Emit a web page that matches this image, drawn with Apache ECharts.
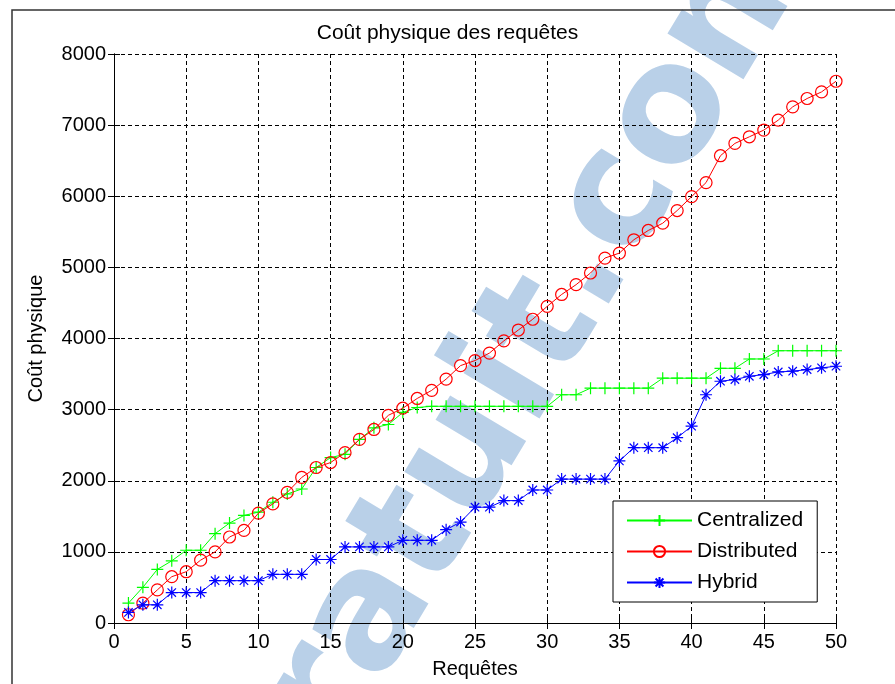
<!DOCTYPE html>
<html>
<head>
<meta charset="utf-8">
<script src="https://cdn.jsdelivr.net/npm/echarts@6/dist/echarts.min.js"></script>
<style>html,body{margin:0;padding:0;background:#fff}#c{width:895px;height:684px}</style>
</head>
<body>
<div id="c"></div>
<script>
const requetes = [1,2,3,4,5,6,7,8,9,10,11,12,13,14,15,16,17,18,19,20,21,22,23,24,25,26,27,28,29,30,31,32,33,34,35,36,37,38,39,40,41,42,43,44,45,46,47,48,49,50];
const centralized = [280,502,753,874,1023,1023,1256,1405,1512,1558,1698,1814,1884,2186,2326,2372,2581,2744,2791,2960,3030,3047,3047,3047,3047,3047,3047,3047,3047,3047,3209,3209,3302,3302,3302,3302,3302,3442,3442,3442,3442,3581,3581,3712,3712,3828,3828,3828,3828,3828];
const distributed = [116,279,465,651,721,884,1000,1209,1302,1544,1674,1837,2047,2186,2256,2395,2581,2721,2920,3020,3157,3271,3429,3619,3690,3795,3967,4119,4271,4452,4619,4757,4921,5131,5201,5388,5519,5621,5799,5995,6192,6570,6743,6836,6930,7070,7257,7374,7467,7617];
const hybrid = [149,256,256,428,428,428,595,595,595,595,684,684,684,893,893,1070,1070,1070,1070,1163,1163,1163,1312,1419,1628,1628,1721,1721,1870,1870,2023,2023,2023,2023,2279,2465,2465,2465,2605,2767,3209,3399,3423,3469,3493,3530,3540,3563,3587,3610];
const seriesNames = ['Centralized','Distributed','Hybrid'];
const titleText = 'Coût physique des requêtes';
const xName = 'Requêtes';
const yName = 'Coût physique';
const watermarkLetters = ['g','r','a','t','u','i','t','.','c','o','m'];

const FONT = 'Liberation Sans, Arial, sans-serif';
const pair = arr => requetes.map((x,i)=>[x,arr[i]]);
const plusPath = 'path://M0,-1L0,1M-1,0L1,0';
const starPath = 'path://M0,-1L0,1M-1,0L1,0M-0.7,-0.7L0.7,0.7M-0.7,0.7L0.7,-0.7';

// watermark layout: letters laid along a rotated baseline, 'c' centred at anchor
const WM_FONT = 'bold 162px "DejaVu Sans", sans-serif';
const WM_EM = 160;
const WM_ANGLE = 59;
const WM_ANCHOR = [620, 203];
function watermarkGraphics() {
  const ctx = document.createElement('canvas').getContext('2d');
  ctx.font = 'bold ' + WM_EM + 'px "DejaVu Sans", sans-serif';
  const w = watermarkLetters.map(ch => ctx.measureText(ch).width);
  const cIdx = watermarkLetters.indexOf('c');
  const centers = [];
  let acc = 0;
  for (let i = 0; i < w.length; i++) { centers.push(acc + w[i] / 2); acc += w[i]; }
  const a = WM_ANGLE * Math.PI / 180;
  const ux = Math.cos(a), uy = -Math.sin(a);
  return watermarkLetters.map((ch, i) => {
    const s = centers[i] - centers[cIdx];
    return {
      type: 'text', z: -20, silent: true,
      x: WM_ANCHOR[0] + s * ux, y: WM_ANCHOR[1] + s * uy, rotation: a,
      style: {text: ch, fill: '#b9d0e8', font: WM_FONT, align: 'center', verticalAlign: 'middle'}
    };
  });
}

const chart = echarts.init(document.getElementById('c'), null, {renderer:'canvas'});
const axisCommon = {
  min: 0,
  axisLine: {show:true, lineStyle:{color:'#000', width:1}},
  axisTick: {show:true, inside:true, length:6, lineStyle:{color:'#000'}},
};
chart.setOption({
  backgroundColor: '#fff',
  animation: false,
  graphic: [
    {
      type:'rect', z:-1, silent:true,
      shape:{x:12, y:10, width:1000, height:1000},
      style:{fill:'none', stroke:'#333', lineWidth:1.5}
    }
  ].concat(watermarkGraphics()),
  title: {
    text: titleText, left: 'center', top: 18,
    textStyle: {fontFamily: FONT, fontSize: 21, fontWeight: 'normal', color: '#000'}
  },
  grid: {left: 114, right: 59, top: 54, bottom: 61, containLabel: false},
  legend: {
    orient: 'vertical', left: 613, top: 501,
    data: seriesNames,
    itemWidth: 65, itemHeight: 14, itemGap: 10,
    padding: [9, 14, 9, 13],
    backgroundColor: '#fff', borderColor: '#000', borderWidth: 1,
    textStyle: {fontFamily: FONT, fontSize: 21, color: '#000'}
  },
  xAxis: [
    Object.assign({}, axisCommon, {
      type:'value', position:'bottom', max:50, interval:5,
      name: xName, nameLocation:'middle', nameGap: 36,
      nameTextStyle:{fontFamily:FONT, fontSize:20, color:'#000'},
      axisLabel:{fontFamily:FONT, fontSize:20, color:'#000', margin:9},
      splitLine:{show:true, lineStyle:{color:'#000', type:[4,3], width:1}}
    }),
    Object.assign({}, axisCommon, {
      type:'value', position:'top', max:50, interval:5,
      axisLabel:{show:false}, splitLine:{show:false}
    })
  ],
  yAxis: [
    Object.assign({}, axisCommon, {
      type:'value', position:'left', max:8000, interval:1000,
      name: yName, nameLocation:'middle', nameGap: 68,
      nameTextStyle:{fontFamily:FONT, fontSize:20, color:'#000'},
      axisLabel:{fontFamily:FONT, fontSize:20, color:'#000', margin:8, formatter: v => String(v)},
      splitLine:{show:true, lineStyle:{color:'#000', type:[4,3], width:1}}
    }),
    Object.assign({}, axisCommon, {
      type:'value', position:'right', max:8000, interval:1000,
      axisLabel:{show:false}, splitLine:{show:false}
    })
  ],
  series: [
    {
      name: seriesNames[0], type:'line', data: pair(centralized),
      symbol: plusPath, symbolSize: 12,
      lineStyle:{color:'#00ff00', width:1},
      itemStyle:{color:'#00ff00', borderColor:'#00ff00', borderWidth:1.2},
      z: 3
    },
    {
      name: seriesNames[1], type:'line', data: pair(distributed),
      symbol: 'circle', symbolSize: 12,
      lineStyle:{color:'#ff0000', width:1},
      itemStyle:{color:'rgba(255,255,255,0)', borderColor:'#ff0000', borderWidth:1.2},
      z: 4
    },
    {
      name: seriesNames[2], type:'line', data: pair(hybrid),
      symbol: starPath, symbolSize: 12,
      lineStyle:{color:'#0000ff', width:1},
      itemStyle:{color:'#0000ff', borderColor:'#0000ff', borderWidth:1.2},
      z: 5
    }
  ]
});
</script>
</body>
</html>
